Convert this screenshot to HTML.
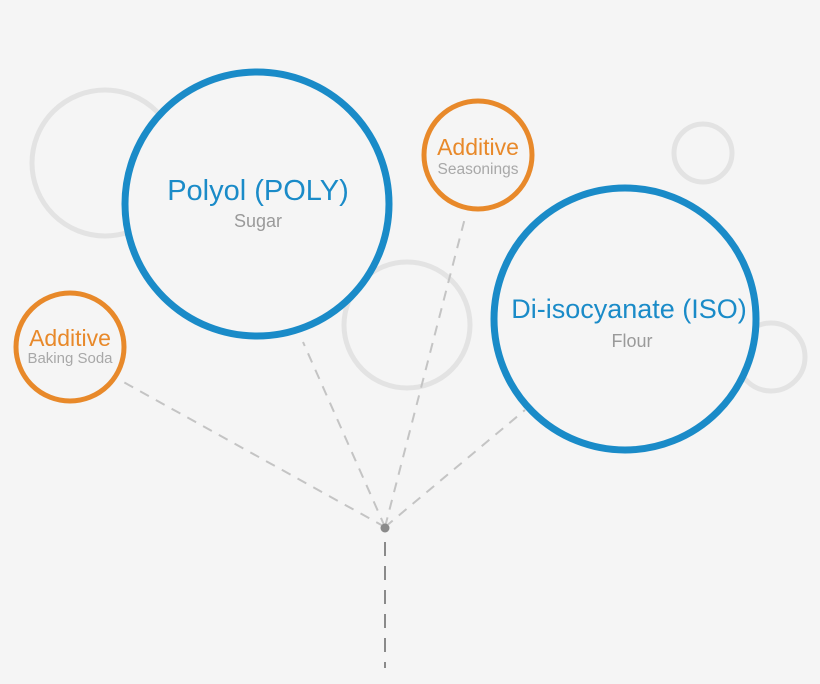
<!DOCTYPE html>
<html><head><style>
html,body{margin:0;padding:0;background:#f5f5f5;}
svg{display:block;}
text{font-family:"Liberation Sans","DejaVu Sans",sans-serif;}
</style></head><body>
<svg width="820" height="684" viewBox="0 0 820 684" xmlns="http://www.w3.org/2000/svg">
<rect width="820" height="684" fill="#f5f5f5"/>
<g fill="none" stroke="#e3e3e3" stroke-width="5">
<circle cx="105" cy="163" r="73"/>
<circle cx="407" cy="325" r="63"/>
<circle cx="703" cy="153" r="29"/>
<circle cx="771" cy="357" r="34"/>
</g>
<g stroke="#c4c4c4" stroke-width="2" stroke-dasharray="10,8" fill="none">
<line x1="385" y1="527" x2="118" y2="379"/>
<line x1="385" y1="527" x2="303" y2="342"/>
<line x1="385" y1="527" x2="466" y2="214"/>
<line x1="385" y1="527" x2="525" y2="410"/>
</g>
<line x1="385" y1="542" x2="385" y2="668" stroke="#8a8a8a" stroke-width="2" stroke-dasharray="14,10"/>
<circle cx="385" cy="528" r="4.5" fill="#8a8a8a"/>
<g fill="#f5f5f5" stroke="#1a8bc8" stroke-width="7">
<circle cx="257" cy="204" r="132"/>
<circle cx="625" cy="319" r="131"/>
</g>
<g fill="#f5f5f5" stroke="#e8892a" stroke-width="5">
<circle cx="478" cy="155" r="54"/>
<circle cx="70" cy="347" r="54"/>
</g>
<g text-anchor="middle">
<text x="258" y="200" font-size="29" fill="#1a8bc8">Polyol (POLY)</text>
<text x="258" y="227" font-size="18" fill="#9a9a9a">Sugar</text>
<text x="629" y="318" font-size="27" fill="#1a8bc8">Di-isocyanate (ISO)</text>
<text x="632" y="347" font-size="18" fill="#9a9a9a">Flour</text>
<text x="478" y="155" font-size="23" fill="#e8892a">Additive</text>
<text x="478" y="174" font-size="15.5" fill="#a8a8a8">Seasonings</text>
<text x="70" y="346" font-size="23" fill="#e8892a">Additive</text>
<text x="70" y="363" font-size="15" fill="#a8a8a8">Baking Soda</text>
</g>
</svg>
</body></html>
